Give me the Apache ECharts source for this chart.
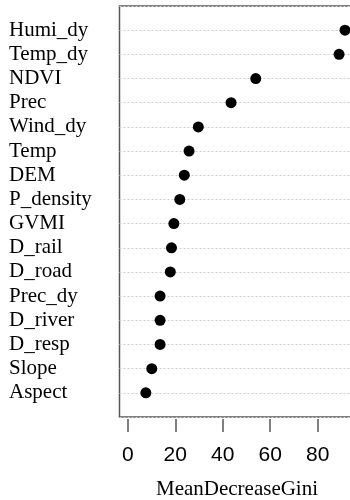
<!DOCTYPE html>
<html>
<head>
<meta charset="utf-8">
<script src="https://cdn.jsdelivr.net/npm/echarts@6/dist/echarts.min.js"></script>
<style>
  html, body { margin: 0; padding: 0; background: #fff; }
  #chart { width: 350px; height: 500px; }
</style>
</head>
<body>
<div id="chart"></div>
<script>
// variables, top to bottom as in the plot
var varNames = ['Humi_dy', 'Temp_dy', 'NDVI', 'Prec', 'Wind_dy', 'Temp', 'DEM', 'P_density',
  'GVMI', 'D_rail', 'D_road', 'Prec_dy', 'D_river', 'D_resp', 'Slope', 'Aspect']
var giniValues = [91.5, 89.0, 53.9, 43.5, 29.7, 25.8, 23.8, 21.9, 19.4, 18.4, 17.9, 13.6, 13.6, 13.6, 10.1, 7.6]
var xTicks = [0, 20, 40, 60, 80]

var chart = echarts.init(document.getElementById('chart'))

var points = giniValues.map(function (v, i) {
  return [v, i + 1]
})

var option = {
  animation: false,
  grid: {
    left: 119.5,
    top: 6,
    width: 235,
    height: 411,
    outerBoundsMode: 'none',
    containLabel: false,
    show: true,
    borderColor: '#555',
    borderWidth: 1.5
  },
  xAxis: {
    type: 'value',
    position: 'bottom',
    min: -3.5,
    max: 95.5,
    offset: 2,
    axisLine: { show: false, onZero: false },
    splitLine: { show: false },
    axisTick: {
      customValues: xTicks,
      length: 13,
      lineStyle: { color: '#555', width: 1.5 }
    },
    axisLabel: {
      customValues: xTicks,
      margin: 26,
      color: '#000',
      fontFamily: 'Liberation Sans',
      fontSize: 21
    },
    name: 'MeanDecreaseGini',
    nameLocation: 'middle',
    nameGap: 60,
    nameTextStyle: {
      color: '#000',
      fontFamily: 'Liberation Serif',
      fontSize: 21
    }
  },
  yAxis: {
    type: 'value',
    inverse: true,
    min: 0,
    max: 17,
    interval: 1,
    axisLine: { show: false },
    axisTick: { show: false },
    splitLine: {
      show: true,
      lineStyle: { color: '#cfcfcf', type: [2, 2], width: 1 }
    },
    axisLabel: {
      align: 'left',
      margin: 110.5,
      color: '#000',
      fontFamily: 'Liberation Serif',
      fontSize: 21,
      formatter: function (v) {
        return varNames[v - 1] || ''
      }
    }
  },
  series: [
    {
      type: 'scatter',
      symbol: 'circle',
      symbolSize: 11,
      itemStyle: { color: '#000', opacity: 1 },
      data: points
    }
  ]
}

chart.setOption(option)
</script>
</body>
</html>
